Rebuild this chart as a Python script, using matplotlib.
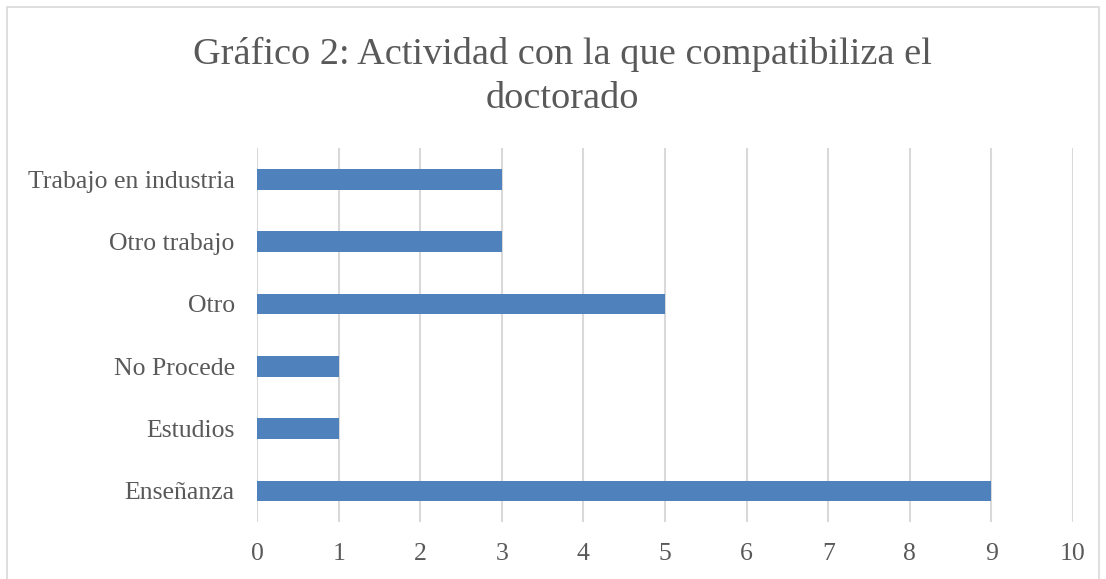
import matplotlib
matplotlib.use('Agg')
import matplotlib.pyplot as plt
from matplotlib.patches import Rectangle

plt.rcParams['font.family'] = ['Liberation Serif', 'DejaVu Serif']

categorias = ['Enseñanza', 'Estudios', 'No Procede', 'Otro', 'Otro trabajo',
              'Trabajo en industria']
valores = [9, 1, 1, 5, 3, 3]
xticks = list(range(0, 11))

texto = '#595959'
fig = plt.figure(figsize=(11.06, 5.79), dpi=100)
ax = fig.add_axes([0.2324, 0.0984, 0.7378, 0.6456])

ax.barh(range(len(categorias)), valores, height=0.33, color='#4f81bd', zorder=3)
ax.set_xlim(0, 10)
ax.set_ylim(-0.5, len(categorias) - 0.5)
ax.set_xticks(xticks)
ax.set_yticks(range(len(categorias)))
ax.set_yticklabels(categorias)
ax.grid(axis='x', color='#d9d9d9', lw=1.5, zorder=0)
for s in ax.spines.values():
    s.set_visible(False)
ax.tick_params(length=0, labelsize=18.5, labelcolor=texto)
ax.tick_params(axis='x', pad=15)
ax.tick_params(axis='y', pad=16)

fig.text(0.5086, 0.868, 'Gráfico 2: Actividad con la que compatibiliza el\ndoctorado',
         ha='center', va='center', fontsize=27.6, color=texto, linespacing=1.38)

fig.patches.append(Rectangle((7 / 1106, -0.01), 1 - 14 / 1106, 1 - 7 / 579 + 0.01,
                             transform=fig.transFigure, fill=False,
                             edgecolor='#d9d9d9', lw=1.2))

fig.savefig('out.png', dpi=100)
